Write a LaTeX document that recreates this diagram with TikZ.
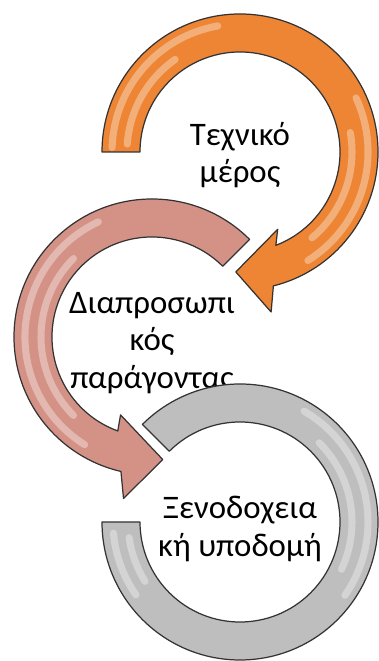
\documentclass[tikz,border=0pt]{standalone}
\usepackage{fontspec}
\setmainfont{Carlito}
\begin{document}
\begin{tikzpicture}[x=0.02cm, y=0.02cm]
    % Define styles for the rings and their labels
    \tikzset{
        ring/.style={draw=black!80, line width=0.7pt, line join=round},
        shine/.style={draw=white, opacity=0.35, line width=4pt, line cap=round},
        ringtext/.style={align=center, text=black, inner sep=0pt,
            font=\fontsize{18.7}{21.5}\selectfont}
    }
    \definecolor{techorange}{RGB}{238,133,52}
    \definecolor{interrose}{RGB}{212,146,134}
    \definecolor{hotelgray}{RGB}{190,190,190}

    \useasboundingbox (0,0) rectangle (378,661);

    % ring centres
    \coordinate (otech) at (240,509);
    \coordinate (ointer) at (152,324);
    \coordinate (ohotel) at (240,139);

    % ==========================================
    % TOP RING (orange arrow)
    % ==========================================
    \begin{scope}[shift={(otech)}]
        \path[ring, fill=techorange] (180:138) arc[start angle=180, end angle=-76, radius=138]
            -- (-79:163) -- (-92:120) -- (-64:86) -- (-69:100)
            arc[start angle=-69, end angle=180, radius=100] -- cycle;
        % glossy stripes
        \foreach \r/\a/\b in {128/100/178, 113/125/176, 128/25/-58, 112/10/-50} {
            \draw[shine] (\a:\r) arc[start angle=\a, end angle=\b, radius=\r];
        }
    \end{scope}
    \node[ringtext] (texttech) at (240,506) {Τεχνικό\\μέρος};

    % ==========================================
    % MIDDLE RING (rose arrow)
    % ==========================================
    \begin{scope}[shift={(ointer)}]
        \path[ring, fill=interrose] (45:138) arc[start angle=45, end angle=257, radius=138]
            -- (260:164) -- (275:123) -- (248:84) -- (250:100)
            arc[start angle=250, end angle=45, radius=100] -- cycle;
        % glossy stripes
        \foreach \r/\a/\b in {127/115/238, 111/135/225} {
            \draw[shine] (\a:\r) arc[start angle=\a, end angle=\b, radius=\r];
        }
    \end{scope}
    \node[ringtext] (textinter) at (152,318) {Διαπροσωπι\\κός\\παράγοντας};

    % ==========================================
    % BOTTOM RING (grey, no head)
    % ==========================================
    \begin{scope}[shift={(ohotel)}]
        \path[ring, fill=hotelgray] (180:138) arc[start angle=180, end angle=495, radius=138]
            -- (135:100) arc[start angle=135, end angle=-180, radius=100] -- cycle;
        % glossy stripes
        \foreach \r/\a/\b in {128/-35/60, 112/-25/45, 127/185/215, 112/188/212} {
            \draw[shine] (\a:\r) arc[start angle=\a, end angle=\b, radius=\r];
        }
    \end{scope}
    \node[ringtext] (texthotel) at (240,132) {Ξενοδοχεια\\κή υποδομή};

\end{tikzpicture}
\end{document}
